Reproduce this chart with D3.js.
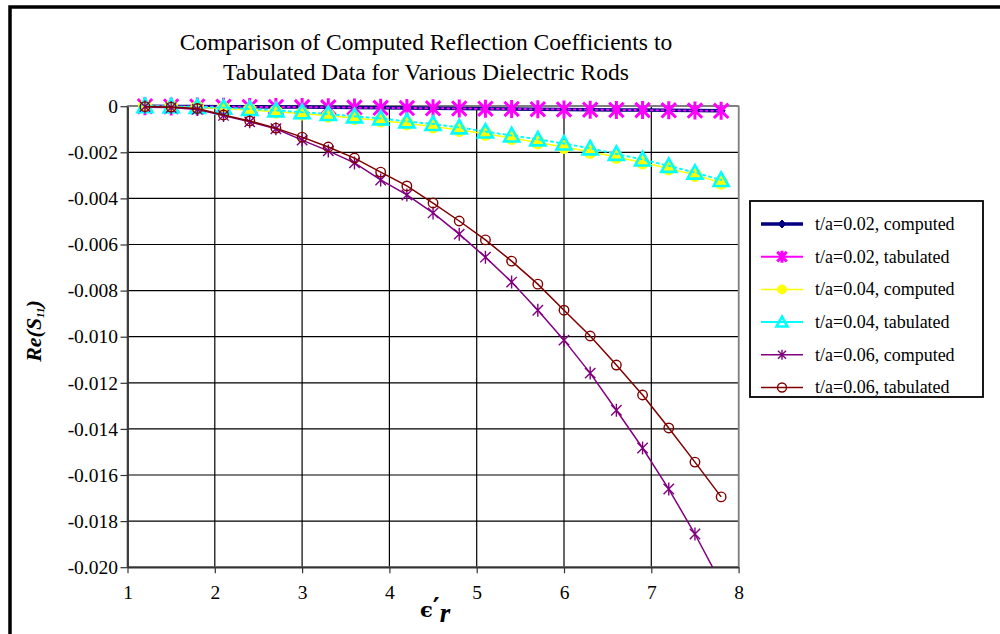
<!DOCTYPE html>
<html>
<head>
<meta charset="utf-8">
<script src="https://cdn.jsdelivr.net/npm/d3@7"></script>
<style>
  body { margin: 0; background: #fff; }
  svg { display: block; }
</style>
</head>
<body>
<svg id="chart" width="1000" height="634"></svg>
<script>
// Relative permittivity of the rod (x values shared by every series)
const epsR = [1.2, 1.5, 1.8, 2.1, 2.4, 2.7, 3.0, 3.3, 3.6, 3.9, 4.2, 4.5,
              4.8, 5.1, 5.4, 5.7, 6.0, 6.3, 6.6, 6.9, 7.2, 7.5, 7.8];

// Re(S11) for each rod thickness t/a
const computed002 = [0, -0.00001, -0.00001, -0.00002, -0.00002, -0.00003, -0.00004, -0.00005,
                     -0.00006, -0.00007, -0.00008, -0.00009, -0.0001, -0.00011, -0.00012,
                     -0.00013, -0.00014, -0.00015, -0.00016, -0.00017, -0.00018, -0.00019, -0.0002];
const tabulated002 = [0, -0.00001, -0.00001, -0.00002, -0.00003, -0.00003, -0.00004, -0.00005,
                      -0.00006, -0.00007, -0.00008, -0.00009, -0.0001, -0.00011, -0.00012,
                      -0.00013, -0.00014, -0.00015, -0.00016, -0.00017, -0.00018, -0.00019, -0.0002];
const computed004 = [0, -0.00002, -0.00005, -0.0001, -0.00016, -0.00024, -0.00032, -0.00041,
                     -0.00051, -0.00062, -0.00075, -0.00088, -0.00103, -0.0012, -0.00138,
                     -0.00157, -0.00177, -0.00198, -0.0022, -0.00244, -0.0027, -0.00298, -0.00332];
const tabulated004 = [0, -0.00001, -0.00003, -0.00006, -0.00012, -0.00018, -0.00026, -0.00034,
                      -0.00044, -0.00053, -0.00066, -0.00077, -0.00092, -0.0011, -0.00127,
                      -0.00144, -0.00162, -0.00183, -0.00207, -0.00231, -0.00259, -0.00288, -0.0032];
const computed006 = [-0.00002, -0.00006, -0.00014, -0.0004, -0.00068, -0.00098, -0.00147, -0.00194,
                     -0.00246, -0.0032, -0.00385, -0.00463, -0.00555, -0.00655, -0.00763,
                     -0.00885, -0.01015, -0.01158, -0.01319, -0.01483, -0.01661, -0.01856, -0.0207];
const tabulated006 = [-0.00002, -0.00004, -0.0001, -0.00038, -0.00064, -0.00095, -0.00134, -0.00177,
                      -0.00225, -0.00286, -0.00346, -0.0042, -0.00498, -0.0058, -0.00672,
                      -0.00772, -0.00885, -0.00997, -0.01123, -0.01253, -0.01396, -0.01544, -0.01695];

const seriesNames = ["t/a=0.02, computed", "t/a=0.02, tabulated",
                     "t/a=0.04, computed", "t/a=0.04, tabulated",
                     "t/a=0.06, computed", "t/a=0.06, tabulated"];

const xTicks = [1, 2, 3, 4, 5, 6, 7, 8];
const xTickLabels = ["1", "2", "3", "4", "5", "6", "7", "8"];
const yTicks = [0, -0.002, -0.004, -0.006, -0.008, -0.010, -0.012, -0.014, -0.016, -0.018, -0.020];
const yTickLabels = ["0", "-0.002", "-0.004", "-0.006", "-0.008", "-0.010",
                     "-0.012", "-0.014", "-0.016", "-0.018", "-0.020"];
const titleLines = ["Comparison of Computed Reflection Coefficients to",
                    "Tabulated Data for Various Dielectric Rods"];

// ---- appearance of each series ----
const styles = [
  { color: "#000080", width: 3.5, dash: null,    marker: "diamond",  size: 8,  lsize: 8,  mstroke: 1,   fill: "#000080" },
  { color: "#FF00FF", width: 2,   dash: "1.5,4", marker: "star",     size: 18, lsize: 12, mstroke: 3,   fill: "none" },
  { color: "#FFFF00", width: 1.5, dash: null,    marker: "circle",   size: 13, lsize: 9,  mstroke: 1,   fill: "#FFFF00" },
  { color: "#00FFFF", width: 2,   dash: "2,4",   marker: "triangle", size: 15, lsize: 11, mstroke: 2.6, fill: "none" },
  { color: "#800080", width: 1.5, dash: null,    marker: "star",     size: 13, lsize: 10, mstroke: 1.4, fill: "none" },
  { color: "#800000", width: 1.5, dash: null,    marker: "circle",   size: 9.5,lsize: 9,  mstroke: 1.4, fill: "none" }
];
const seriesValues = [computed002, tabulated002, computed004, tabulated004, computed006, tabulated006];
const series = seriesNames.map((name, i) => ({
  name, style: styles[i],
  points: epsR.map((e, j) => ({ x: e, y: seriesValues[i][j] }))
}));

const FONT = "'Liberation Serif', 'Times New Roman', serif";
const svg = d3.select("#chart");

svg.append("rect").attr("width", 1000).attr("height", 634).attr("fill", "#fff");

// chart frame (runs past the right and bottom edges)
svg.append("rect")
  .attr("x", 10).attr("y", 7).attr("width", 1100).attr("height", 900)
  .attr("fill", "none").attr("stroke", "#000").attr("stroke-width", 3.5);

const plot = { left: 127.5, right: 738.6, top: 106.2, bottom: 567.2 };
const x = d3.scaleLinear().domain([1, 8]).range([plot.left, plot.right]);
const y = d3.scaleLinear().domain([-0.02, 0]).range([plot.bottom, plot.top]);

// title
svg.append("g").selectAll("text").data(titleLines).join("text")
  .attr("x", 426).attr("y", (d, i) => 50 + i * 30)
  .attr("text-anchor", "middle")
  .style("font-family", FONT).style("font-size", "23.5px").attr("fill", "#000")
  .text(d => d);

// gridlines
const grid = svg.append("g");
grid.selectAll("line.h").data(yTicks).join("line").attr("class", "h")
  .attr("x1", plot.left).attr("x2", plot.right)
  .attr("y1", d => y(d)).attr("y2", d => y(d))
  .attr("stroke", "#000").attr("stroke-width", 1.2);
grid.selectAll("line.v").data(xTicks).join("line").attr("class", "v")
  .attr("y1", plot.top).attr("y2", plot.bottom)
  .attr("x1", d => x(d)).attr("x2", d => x(d))
  .attr("stroke", "#000").attr("stroke-width", 1.2);

// plot area border
svg.append("rect")
  .attr("x", plot.left).attr("y", plot.top)
  .attr("width", plot.right - plot.left).attr("height", plot.bottom - plot.top)
  .attr("fill", "none").attr("stroke", "#808080").attr("stroke-width", 1.6);

// axes
const yAxis = svg.append("g").attr("transform", `translate(${plot.left},0)`)
  .call(d3.axisLeft(y).tickValues(yTicks).tickFormat((d, i) => yTickLabels[i])
        .tickSize(7).tickPadding(2.5).tickSizeOuter(0));
const xAxis = svg.append("g").attr("transform", `translate(0,${plot.bottom})`)
  .call(d3.axisBottom(x).tickValues(xTicks).tickFormat((d, i) => xTickLabels[i])
        .tickSize(6).tickSizeOuter(0));
[yAxis, xAxis].forEach(a => {
  a.select(".domain").attr("stroke", "#333").attr("stroke-width", 1.8);
  a.selectAll(".tick line").attr("stroke", "#333").attr("stroke-width", 1.2);
  a.selectAll("text").style("font-family", FONT).style("font-size", "19.5px").attr("fill", "#000");
});
xAxis.selectAll("text").attr("y", 32).attr("dy", 0);

// axis titles
const yTitle = svg.append("text")
  .attr("transform", "translate(41,331) rotate(-90)")
  .attr("text-anchor", "middle")
  .style("font-family", FONT).style("font-size", "22px")
  .style("font-weight", "bold").style("font-style", "italic")
  .attr("fill", "#000");
yTitle.append("tspan").text("Re(S");
yTitle.append("tspan").style("font-size", "11px").attr("dy", 3).text("11");
yTitle.append("tspan").attr("dy", -3).text(")");

const xTitle = svg.append("text")
  .attr("x", 420).attr("y", 617)
  .style("font-weight", "bold").attr("fill", "#000");
xTitle.append("tspan").style("font-family", "'DejaVu Serif', serif").style("font-size", "21px").text("\u03F5");
xTitle.append("tspan").style("font-family", "'DejaVu Serif', serif").style("font-size", "26px")
  .attr("dy", -1).text("\u2032");
xTitle.append("tspan").style("font-family", FONT).style("font-style", "italic").style("font-size", "27px")
  .attr("dy", 6).text("r");

// marker shapes centred on the origin
function markerPath(type, s) {
  const r = s / 2;
  switch (type) {
    case "diamond":  return `M0,${-r}L${r},0L0,${r}L${-r},0Z`;
    case "triangle": return `M0,${-r}L${r},${r * 0.8}L${-r},${r * 0.8}Z`;
    case "circle":   return `M${r},0A${r},${r} 0 1,1 ${-r},0A${r},${r} 0 1,1 ${r},0Z`;
    case "star":     return `M0,${-r}L0,${r}M${-r * 0.8},${-r * 0.8}L${r * 0.8},${r * 0.8}M${-r * 0.8},${r * 0.8}L${r * 0.8},${-r * 0.8}`;
  }
}
function drawMarker(sel, st, size) {
  sel.append("path")
    .attr("d", markerPath(st.marker, size))
    .attr("fill", st.fill)
    .attr("stroke", st.color)
    .attr("stroke-width", st.mstroke)
    .attr("stroke-linejoin", "miter");
}

// series
svg.append("clipPath").attr("id", "plotClip").append("rect")
  .attr("x", plot.left).attr("y", plot.top - 4)
  .attr("width", plot.right - plot.left).attr("height", plot.bottom - plot.top + 4);

const line = d3.line().x(d => x(d.x)).y(d => y(d.y));
series.forEach(s => {
  const g = svg.append("g");
  g.append("path").datum(s.points)
    .attr("clip-path", "url(#plotClip)")
    .attr("d", line).attr("fill", "none")
    .attr("stroke", s.style.color).attr("stroke-width", s.style.width)
    .attr("stroke-dasharray", s.style.dash)
    .attr("stroke-linecap", s.style.dash ? "round" : "butt");
  g.selectAll("g.m").data(s.points.filter(p => p.y >= -0.02)).join("g").attr("class", "m")
    .attr("transform", p => `translate(${x(p.x)},${y(p.y)})`)
    .each(function () { drawMarker(d3.select(this), s.style, s.style.size); });
});

// legend
const legend = svg.append("g");
legend.append("rect").attr("x", 750).attr("y", 201).attr("width", 233).attr("height", 196)
  .attr("fill", "#fff").attr("stroke", "#000").attr("stroke-width", 1.8);
const items = legend.selectAll("g.item").data(series).join("g").attr("class", "item")
  .attr("transform", (d, i) => `translate(0,${224 + i * 32.7})`);
items.append("line").attr("x1", 761).attr("x2", 803).attr("y1", 0).attr("y2", 0)
  .attr("stroke", d => d.style.color).attr("stroke-width", d => d.style.width);
items.append("g").attr("transform", "translate(782,0)")
  .each(function (d) { drawMarker(d3.select(this), d.style, d.style.lsize); });
items.append("text").attr("x", 815).attr("y", 0).attr("dy", "0.33em")
  .style("font-family", FONT).style("font-size", "18px").attr("fill", "#000")
  .text(d => d.name);
</script>
</body>
</html>
